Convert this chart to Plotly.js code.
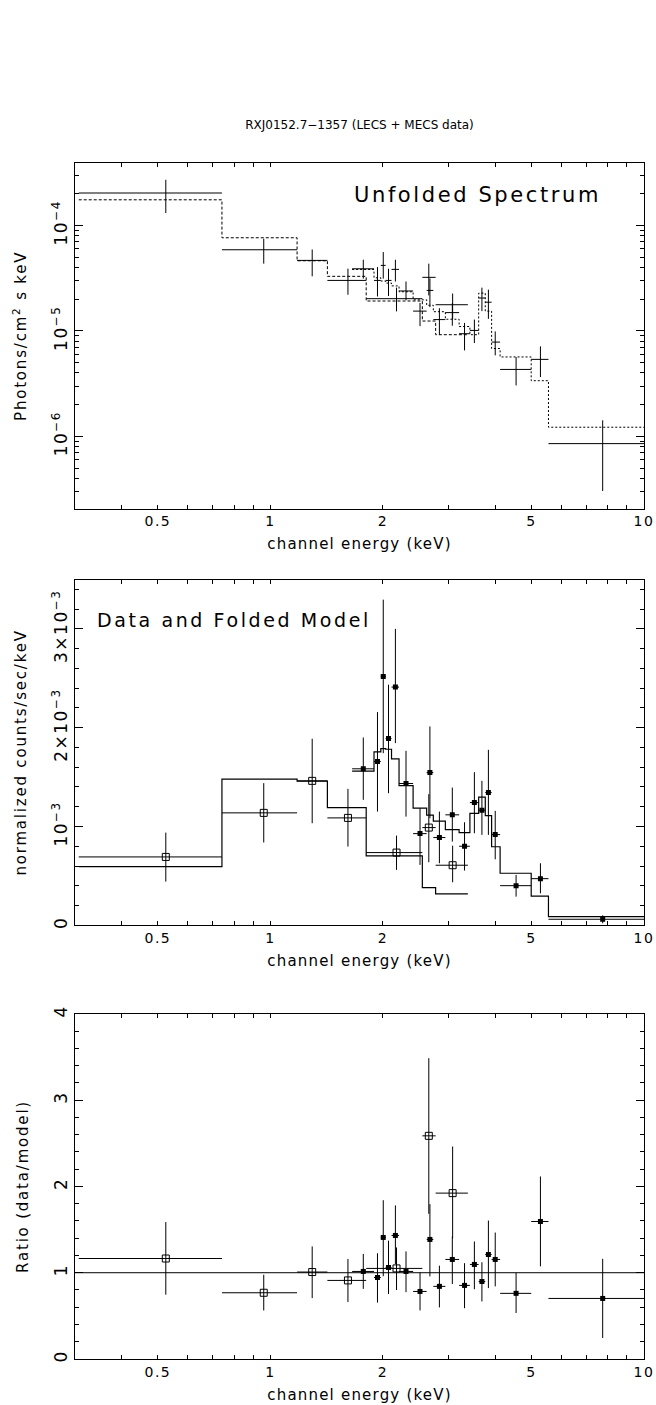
<!DOCTYPE html>
<html><head><meta charset="utf-8">
<script src="https://cdn.plot.ly/plotly-3.0.1.min.js"></script>
<style>
html,body{margin:0;padding:0;background:#fff;}
#chart{width:656px;height:1405px;}
g[class*="tick"] text{letter-spacing:1.5px;}
text.xtitle,text.x2title,text.x3title{letter-spacing:1.2px;}
text.ytitle,text.y2title,text.y3title{letter-spacing:1.8px;}
.annotation-text{letter-spacing:2.6px;}
</style>
</head><body><div id="chart"></div>
<script>
// ---------------- DATA ----------------
// LECS (open squares)
const lecsE  = [0.525, 0.960, 1.294, 1.613, 2.176, 2.655, 3.075];
const lecsLo = [0.307, 0.742, 1.179, 1.421, 1.805, 2.551, 2.769];
const lecsHi = [0.742, 1.179, 1.421, 1.805, 2.551, 2.769, 3.378];
const lecsUnf      = [2.03e-4, 5.88e-5, 4.66e-5, 3.01e-5, 2.02e-5, 3.22e-5, 1.77e-5];
const lecsUnfHi    = [2.71e-4, 7.48e-5, 5.92e-5, 3.89e-5, 2.57e-5, 4.34e-5, 2.26e-5];
const lecsUnfLo    = [1.31e-4, 4.34e-5, 3.29e-5, 2.20e-5, 1.53e-5, 2.17e-5, 1.29e-5];
const lecsUnfModel = [1.75e-4, 7.64e-5, 4.62e-5, 3.29e-5, 1.92e-5, 1.24e-5, 9.2e-6];
const lecsFold      = [0.692e-3, 1.138e-3, 1.462e-3, 1.087e-3, 0.736e-3, 0.989e-3, 0.608e-3];
const lecsFoldHi    = [0.938e-3, 1.439e-3, 1.888e-3, 1.381e-3, 0.908e-3, 1.327e-3, 0.806e-3];
const lecsFoldLo    = [0.442e-3, 0.838e-3, 1.033e-3, 0.797e-3, 0.561e-3, 0.638e-3, 0.435e-3];
const lecsFoldModel = [0.594e-3, 1.479e-3, 1.459e-3, 1.192e-3, 0.702e-3, 0.381e-3, 0.317e-3];
const lecsRatio   = [1.165, 0.768, 1.008, 0.911, 1.050, 2.587, 1.923];
const lecsRatioHi = [1.587, 0.976, 1.305, 1.160, 1.293, 3.487, 2.463];
const lecsRatioLo = [0.745, 0.563, 0.706, 0.660, 0.800, 1.683, 1.400];

// MECS (filled squares)
const mecsE  = [1.773, 1.935, 2.005, 2.071, 2.161, 2.307, 2.515, 2.673, 2.834, 3.069, 3.309, 3.516, 3.683, 3.833, 3.998, 4.546, 5.282, 7.752];
const mecsLo = [1.655, 1.894, 1.975, 2.035, 2.11, 2.21, 2.41, 2.62, 2.73, 2.94, 3.20, 3.42, 3.61, 3.76, 3.91, 4.12, 4.99, 5.55];
const mecsHi = [1.894, 1.975, 2.035, 2.11, 2.21, 2.41, 2.62, 2.73, 2.94, 3.20, 3.42, 3.61, 3.76, 3.91, 4.12, 4.99, 5.55, 10.0];
const mecsUnf      = [3.88e-5, 3.01e-5, 4.18e-5, 3.01e-5, 3.83e-5, 2.39e-5, 1.54e-5, 2.42e-5, 1.28e-5, 1.49e-5, 9.4e-6, 1.01e-5, 2.05e-5, 1.87e-5, 7.83e-6, 4.31e-6, 5.37e-6, 8.53e-7];
const mecsUnfHi    = [4.73e-5, 4.03e-5, 5.59e-5, 3.88e-5, 4.73e-5, 2.94e-5, 1.84e-5, 3.14e-5, 1.64e-5, 1.83e-5, 1.19e-5, 1.28e-5, 2.57e-5, 2.46e-5, 9.88e-6, 5.65e-6, 7.13e-6, 1.42e-6];
const mecsUnfLo    = [3.13e-5, 2.12e-5, 3.13e-5, 2.14e-5, 2.94e-5, 1.95e-5, 1.11e-5, 1.68e-5, 9.2e-6, 1.12e-5, 6.53e-6, 7.67e-6, 1.54e-5, 1.30e-5, 5.86e-6, 3.04e-6, 3.65e-6, 3.03e-7];
const mecsUnfModel = [3.82e-5, 3.19e-5, 2.97e-5, 2.84e-5, 2.67e-5, 2.35e-5, 1.97e-5, 1.75e-5, 1.52e-5, 1.29e-5, 1.10e-5, 9.2e-6, 2.28e-5, 1.54e-5, 6.8e-6, 5.66e-6, 3.37e-6, 1.22e-6];
const mecsFold      = [1.584e-3, 1.658e-3, 2.519e-3, 1.891e-3, 2.411e-3, 1.435e-3, 0.928e-3, 1.546e-3, 0.888e-3, 1.118e-3, 0.800e-3, 1.242e-3, 1.165e-3, 1.344e-3, 0.918e-3, 0.401e-3, 0.472e-3, 0.061e-3];
const mecsFoldHi    = [1.901e-3, 2.158e-3, 3.296e-3, 2.435e-3, 3.000e-3, 1.766e-3, 1.185e-3, 2.013e-3, 1.151e-3, 1.394e-3, 1.043e-3, 1.550e-3, 1.462e-3, 1.776e-3, 1.158e-3, 0.510e-3, 0.628e-3, 0.101e-3];
const mecsFoldLo    = [1.270e-3, 1.151e-3, 1.742e-3, 1.337e-3, 1.844e-3, 1.100e-3, 0.611e-3, 1.084e-3, 0.628e-3, 0.847e-3, 0.554e-3, 0.932e-3, 0.915e-3, 0.915e-3, 0.668e-3, 0.290e-3, 0.324e-3, 0.021e-3];
const mecsFoldModel = [1.561e-3, 1.755e-3, 1.788e-3, 1.782e-3, 1.684e-3, 1.414e-3, 1.185e-3, 1.115e-3, 1.055e-3, 0.969e-3, 0.938e-3, 1.133e-3, 1.297e-3, 1.110e-3, 0.795e-3, 0.527e-3, 0.296e-3, 0.087e-3];
const mecsRatio   = [1.015, 0.945, 1.409, 1.061, 1.432, 1.015, 0.783, 1.386, 0.842, 1.154, 0.853, 1.096, 0.898, 1.211, 1.154, 0.761, 1.594, 0.702];
const mecsRatioHi = [1.218, 1.226, 1.841, 1.372, 1.780, 1.247, 1.004, 1.795, 1.082, 1.420, 1.111, 1.362, 1.122, 1.605, 1.466, 0.998, 2.116, 1.161];
const mecsRatioLo = [0.813, 0.654, 0.960, 0.754, 1.100, 0.775, 0.563, 0.957, 0.598, 0.869, 0.589, 0.809, 0.667, 0.822, 0.842, 0.533, 1.074, 0.243];

// Tick labels
const xTickVals = [0.5, 1, 2, 5, 10];
const xTickText = ['0.5', '1', '2', '5', '10'];
const xMinorVals = [0.3, 0.4, 0.6, 0.7, 0.8, 0.9, 3, 4, 6, 7, 8, 9];
const xDecadeVals = [1, 10];
const y1TickVals = [1e-6, 1e-5, 1e-4];
const y1TickText = ['10<sup>−6</sup>', '10<sup>−5</sup>', '10<sup>−4</sup>'];
const y1MinorVals = [3e-7,4e-7,5e-7,6e-7,7e-7,8e-7,9e-7,2e-6,3e-6,4e-6,5e-6,6e-6,7e-6,8e-6,9e-6,2e-5,3e-5,4e-5,5e-5,6e-5,7e-5,8e-5,9e-5,2e-4,3e-4];
const y2TickVals = [0, 1e-3, 2e-3, 3e-3];
const y2TickText = ['0', '10<sup>−3</sup>', '2×10<sup>−3</sup>', '3×10<sup>−3</sup>'];
const y2MinorVals = [2e-4,4e-4,6e-4,8e-4,1.2e-3,1.4e-3,1.6e-3,1.8e-3,2.2e-3,2.4e-3,2.6e-3,2.8e-3,3.2e-3,3.4e-3];
const y3TickVals = [0, 1, 2, 3, 4];
const y3TickText = ['0', '1', '2', '3', '4'];
const y3MinorVals = [0.2,0.4,0.6,0.8,1.2,1.4,1.6,1.8,2.2,2.4,2.6,2.8,3.2,3.4,3.6,3.8];

// ---------------- LAYOUT GEOMETRY ----------------
const W = 656, H = 1405;
const L = 75, R = 644;
const P = [[162.5, 508.3], [579.3, 925.3], [1014, 1359.3]];
const mt = P[0][0], mb = H - P[2][1];
const ph = H - mt - mb;
const frac = px => (P[2][1] - px) / ph;
const dom = i => [frac(P[i][1]), frac(P[i][0])];

const FONT = 'DejaVu Sans, sans-serif';
const BLACK = '#000';

function errs(v, hi, lo) {
  return { type: 'data', symmetric: false,
    array: v.map((d, i) => hi[i] - d), arrayminus: v.map((d, i) => d - lo[i]),
    width: 0, thickness: 1, color: BLACK };
}
function xerrs(e, lo, hi) {
  return { type: 'data', symmetric: false,
    array: e.map((d, i) => hi[i] - d), arrayminus: e.map((d, i) => d - lo[i]),
    width: 0, thickness: 1, color: BLACK };
}
function step(lo, hi, m) {
  return { x: lo.concat([hi[hi.length - 1]]), y: m.concat([m[m.length - 1]]) };
}

const traces = [];
const axSuffix = ['', '2', '3'];
// Panel 1: unfolded spectrum
const s1 = step(lecsLo, lecsHi, lecsUnfModel);
traces.push({ x: s1.x, y: s1.y, xaxis: 'x', yaxis: 'y', mode: 'lines',
  line: { shape: 'hv', color: BLACK, width: 1, dash: '3px,2px' } });
const s2 = step(mecsLo, mecsHi, mecsUnfModel);
traces.push({ x: s2.x, y: s2.y, xaxis: 'x', yaxis: 'y', mode: 'lines',
  line: { shape: 'hv', color: BLACK, width: 1, dash: '2px,2px' } });
traces.push({ x: lecsE, y: lecsUnf, xaxis: 'x', yaxis: 'y', mode: 'markers',
  marker: { size: 1, color: 'rgba(0,0,0,0)' },
  error_x: xerrs(lecsE, lecsLo, lecsHi), error_y: errs(lecsUnf, lecsUnfHi, lecsUnfLo) });
traces.push({ x: mecsE, y: mecsUnf, xaxis: 'x', yaxis: 'y', mode: 'markers',
  marker: { size: 1, color: 'rgba(0,0,0,0)' },
  error_x: xerrs(mecsE, mecsLo, mecsHi), error_y: errs(mecsUnf, mecsUnfHi, mecsUnfLo) });

// Panel 2: data and folded model
const f1 = step(lecsLo, lecsHi, lecsFoldModel);
traces.push({ x: f1.x, y: f1.y, xaxis: 'x2', yaxis: 'y2', mode: 'lines',
  line: { shape: 'hv', color: BLACK, width: 1.2 } });
const f2 = step(mecsLo, mecsHi, mecsFoldModel);
traces.push({ x: f2.x, y: f2.y, xaxis: 'x2', yaxis: 'y2', mode: 'lines',
  line: { shape: 'hv', color: BLACK, width: 1.2 } });
traces.push({ x: lecsE, y: lecsFold, xaxis: 'x2', yaxis: 'y2', mode: 'markers',
  marker: { symbol: 'square-open', size: 7, color: BLACK, line: { width: 1, color: BLACK } },
  error_x: xerrs(lecsE, lecsLo, lecsHi), error_y: errs(lecsFold, lecsFoldHi, lecsFoldLo) });
traces.push({ x: mecsE, y: mecsFold, xaxis: 'x2', yaxis: 'y2', mode: 'markers',
  marker: { symbol: 'square', size: 5, color: BLACK },
  error_x: xerrs(mecsE, mecsLo, mecsHi), error_y: errs(mecsFold, mecsFoldHi, mecsFoldLo) });

// Panel 3: ratio
traces.push({ x: lecsE, y: lecsRatio, xaxis: 'x3', yaxis: 'y3', mode: 'markers',
  marker: { symbol: 'square-open', size: 7, color: BLACK, line: { width: 1, color: BLACK } },
  error_x: xerrs(lecsE, lecsLo, lecsHi), error_y: errs(lecsRatio, lecsRatioHi, lecsRatioLo) });
traces.push({ x: mecsE, y: mecsRatio, xaxis: 'x3', yaxis: 'y3', mode: 'markers',
  marker: { symbol: 'square', size: 5, color: BLACK },
  error_x: xerrs(mecsE, mecsLo, mecsHi), error_y: errs(mecsRatio, mecsRatioHi, mecsRatioLo) });

function xAxis(i) {
  return {
    type: 'log', range: [Math.log10(0.3), 1], domain: [0, 1], anchor: 'y' + axSuffix[i],
    showline: true, linecolor: BLACK, linewidth: 1, mirror: 'allticks',
    ticks: 'inside', ticklen: 4, tickwidth: 1, tickcolor: BLACK,
    tickmode: 'array', tickvals: xTickVals, ticktext: xTickText,
    minor: { ticks: 'inside', ticklen: 4, tickwidth: 1, tickcolor: BLACK, tickmode: 'array', tickvals: xMinorVals, showgrid: false },
    showgrid: false, zeroline: false, automargin: false,
    tickfont: { family: FONT, size: 14, color: BLACK },
    title: { text: 'channel energy (keV)', font: { family: FONT, size: 15, color: BLACK }, standoff: 10 }
  };
}
function decadeAxis(i) {
  return {
    type: 'log', range: [Math.log10(0.3), 1], overlaying: 'x' + axSuffix[i], anchor: 'y' + axSuffix[i],
    showline: false, mirror: 'allticks', ticks: 'inside', ticklen: 8, tickwidth: 1, tickcolor: BLACK,
    tickmode: 'array', tickvals: xDecadeVals, showticklabels: false,
    showgrid: false, zeroline: false, automargin: false
  };
}
function yAxis(i, extra) {
  return Object.assign({
    domain: dom(i), anchor: 'x' + axSuffix[i],
    showline: true, linecolor: BLACK, linewidth: 1, mirror: 'allticks',
    ticks: 'inside', ticklen: 8, tickwidth: 1, tickcolor: BLACK, tickangle: -90,
    tickmode: 'array', showgrid: false, zeroline: false, automargin: false,
    tickfont: { family: FONT, size: 17, color: BLACK }
  }, extra);
}
const yTitleFont = { family: FONT, size: 15, color: BLACK };

const layout = {
  width: W, height: H,
  margin: { l: L, r: W - R, t: mt, b: mb, pad: 0 },
  paper_bgcolor: '#fff', plot_bgcolor: '#fff',
  showlegend: false,
  font: { family: FONT, color: BLACK },
  title: { text: 'RXJ0152.7−1357 (LECS + MECS data)', font: { family: FONT, size: 12, color: BLACK },
    xref: 'paper', x: 0.5, xanchor: 'center', yref: 'container', y: 1 - 125 / H, yanchor: 'middle' },
  xaxis: xAxis(0), xaxis2: xAxis(1), xaxis3: xAxis(2),
  xaxis4: decadeAxis(0), xaxis5: decadeAxis(1), xaxis6: decadeAxis(2),
  yaxis: yAxis(0, { type: 'log', range: [-6.685, -3.408], tickvals: y1TickVals, ticktext: y1TickText,
    minor: { ticks: 'inside', ticklen: 4, tickwidth: 1, tickcolor: BLACK, tickmode: 'array', tickvals: y1MinorVals, showgrid: false },
    title: { text: 'Photons/cm<sup>2</sup> s keV', font: yTitleFont, standoff: 18 } }),
  yaxis2: yAxis(1, { type: 'linear', range: [0, 3.5e-3], tickvals: y2TickVals, ticktext: y2TickText,
    minor: { ticks: 'inside', ticklen: 4, tickwidth: 1, tickcolor: BLACK, tickmode: 'array', tickvals: y2MinorVals, showgrid: false },
    title: { text: 'normalized counts/sec/keV', font: yTitleFont, standoff: 18 } }),
  yaxis3: yAxis(2, { type: 'linear', range: [0, 4], tickvals: y3TickVals, ticktext: y3TickText,
    minor: { ticks: 'inside', ticklen: 4, tickwidth: 1, tickcolor: BLACK, tickmode: 'array', tickvals: y3MinorVals, showgrid: false },
    title: { text: 'Ratio (data/model)', font: yTitleFont, standoff: 18 } }),
  shapes: [
    { type: 'line', xref: 'x3 domain', x0: 0, x1: 1, yref: 'y3', y0: 1, y1: 1, line: { color: BLACK, width: 1 } }
  ],
  annotations: [
    { text: 'Unfolded Spectrum', xref: 'x domain', yref: 'y domain', x: (352 - L) / (R - L), y: (P[0][1] - 194.5) / (P[0][1] - P[0][0]),
      xanchor: 'left', yanchor: 'middle', showarrow: false, font: { family: FONT, size: 21, color: BLACK } },
    { text: 'Data and Folded Model', xref: 'x2 domain', yref: 'y2 domain', x: (95 - L) / (R - L), y: (P[1][1] - 620) / (P[1][1] - P[1][0]),
      xanchor: 'left', yanchor: 'middle', showarrow: false, font: { family: FONT, size: 19, color: BLACK } }
  ]
};

Plotly.newPlot('chart', traces, layout, { staticPlot: true, displayModeBar: false });
</script></body></html>
